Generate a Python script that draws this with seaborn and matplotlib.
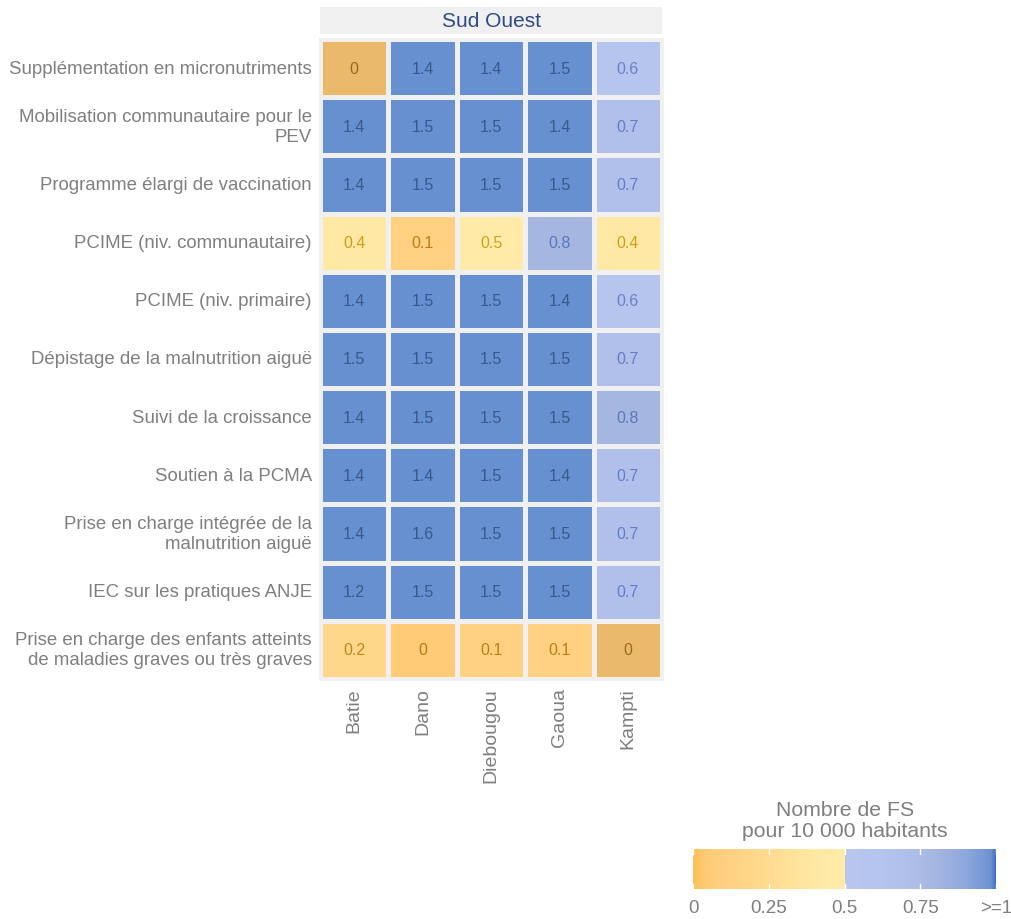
import colorsys
import numpy as np
import pandas as pd
import matplotlib
matplotlib.use("Agg")
import matplotlib.pyplot as plt
import matplotlib.colors as mcolors
import seaborn as sns

# Data
districts = ["Batie", "Dano", "Diebougou", "Gaoua", "Kampti"]
interventions = [
    "Supplémentation en micronutriments",
    "Mobilisation communautaire pour le\nPEV",
    "Programme élargi de vaccination",
    "PCIME (niv. communautaire)",
    "PCIME (niv. primaire)",
    "Dépistage de la malnutrition aiguë",
    "Suivi de la croissance",
    "Soutien à la PCMA",
    "Prise en charge intégrée de la\nmalnutrition aiguë",
    "IEC sur les pratiques ANJE",
    "Prise en charge des enfants atteints\nde maladies graves ou très graves",
]
batie = [0, 1.4, 1.4, 0.4, 1.4, 1.5, 1.4, 1.4, 1.4, 1.2, 0.2]
dano = [1.4, 1.5, 1.5, 0.1, 1.5, 1.5, 1.5, 1.4, 1.6, 1.5, 0.04]
diebougou = [1.4, 1.5, 1.5, 0.48, 1.5, 1.5, 1.5, 1.5, 1.5, 1.5, 0.1]
gaoua = [1.5, 1.4, 1.5, 0.8, 1.4, 1.5, 1.5, 1.4, 1.5, 1.5, 0.1]
kampti = [0.6, 0.7, 0.7, 0.4, 0.6, 0.7, 0.8, 0.7, 0.7, 0.7, 0]
region = "Sud Ouest"
legend_title = "Nombre de FS\npour 10 000 habitants"
cbar_ticks = [0, 0.25, 0.5, 0.75, 1]
cbar_labels = ["0", "0.25", "0.5", "0.75", ">=1"]

df = pd.DataFrame({"Batie": batie, "Dano": dano, "Diebougou": diebougou,
                   "Gaoua": gaoua, "Kampti": kampti}, index=interventions)

plt.rcParams["font.family"] = ["Liberation Sans", "DejaVu Sans"]
grey = "#7f7f7f"
panel = "#f0f0f0"

# two-sided palette: orange -> light yellow below 0.5, light blue -> blue above
orange = mcolors.LinearSegmentedColormap.from_list(
    "o", [(0, "#fdbe55"), (0.08, "#ffcb78"), (0.4, "#ffd78a"), (0.8, "#ffe8a3"), (1, "#ffeba8")])
blue = mcolors.LinearSegmentedColormap.from_list(
    "b", [(0, "#b8c6ee"), (0.2, "#b6c5ee"), (0.4, "#b0c0eb"), (0.6, "#a5b6e1"),
          (0.8, "#8ea8dc"), (0.97, "#6c91d0"), (1, "#3d6ec9")])
cols = np.vstack([orange(np.linspace(0, 1, 256)), blue(np.linspace(0, 1, 256))])
cmap = mcolors.ListedColormap(cols)
cmap.set_over("#6690cf")
cmap.set_under("#ebb96a")
norm = mcolors.Normalize(vmin=0, vmax=1)

# exact zeros are drawn with the "under" colour
plot_vals = df.where(df != 0, -1)
labels = df.map(lambda v: f"{v:.1f}".rstrip("0").rstrip(".") if round(v, 1) != 0 else "0")

fig = plt.figure(figsize=(10.11, 9.2), dpi=100)
ax = fig.add_axes([0.3165, 0.261, 0.3385, 0.6955])
ax.set_facecolor(panel)
sns.heatmap(plot_vals, ax=ax, cmap=cmap, norm=norm, cbar=False,
            linewidths=2.5, linecolor=panel, annot=False)

for i in range(df.shape[0]):
    for j in range(df.shape[1]):
        c = cmap(norm(plot_vals.iat[i, j]))
        h, l, s = colorsys.rgb_to_hls(*c[:3])
        if h < 0.2:
            tc = colorsys.hls_to_rgb(h, l * 0.55, s * 0.78)
        else:
            tc = colorsys.hls_to_rgb(h, max(l - 0.22, 0), s * 0.8)
        ax.text(j + 0.5, i + 0.5, labels.iat[i, j], ha="center", va="center",
                fontsize=11.5, color=tc)

ax.set_xlabel("")
ax.set_ylabel("")
ax.tick_params(length=0, pad=6)
ax.set_xticklabels(districts, rotation=90, fontsize=14, color=grey, va="top")
ax.set_yticklabels(interventions, rotation=0, fontsize=13.4, color=grey)
for sp in ax.spines.values():
    sp.set_visible(True)
    sp.set_color(panel)
    sp.set_linewidth(2)

# facet strip
sax = fig.add_axes([0.3165, 0.962, 0.3385, 0.0293])
sax.set_facecolor("#f0f0f0")
sax.set_xticks([])
sax.set_yticks([])
for sp in sax.spines.values():
    sp.set_visible(False)
sax.text(0.5, 0.5, region, ha="center", va="center", fontsize=15,
         color="#2f4a84", transform=sax.transAxes)

# colour bar
cax = fig.add_axes([0.6855, 0.0326, 0.2997, 0.0435])
sm = matplotlib.cm.ScalarMappable(norm=norm, cmap=cmap)
cb = fig.colorbar(sm, cax=cax, orientation="horizontal", ticks=cbar_ticks)
cb.outline.set_visible(False)
cb.set_ticklabels(cbar_labels)
cax.tick_params(axis="x", colors="white", length=0, labelsize=13.5, labelcolor=grey, pad=7)
for t in cbar_ticks:
    cax.plot([t, t], [0, 0.12], color="white", lw=1, transform=cax.get_xaxis_transform())
    cax.plot([t, t], [0.88, 1], color="white", lw=1, transform=cax.get_xaxis_transform())
fig.text(0.8355, 0.086, legend_title, ha="center", va="bottom", fontsize=15.3,
         color=grey, linespacing=1.1)

fig.savefig("out.png", dpi=100)
